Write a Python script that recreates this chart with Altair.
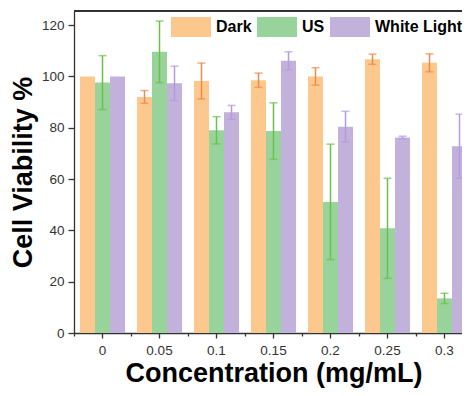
import altair as alt
import pandas as pd

concentrations = ["0", "0.05", "0.1", "0.15", "0.2", "0.25", "0.3"]
series = ["Dark", "US", "White Light"]
dark_mean = [100.0, 92.0, 98.2, 98.5, 100.0, 106.7, 105.3]
dark_err = [0.0, 2.5, 7.0, 2.8, 3.4, 2.0, 3.5]
us_mean = [97.6, 109.6, 79.0, 78.7, 51.1, 40.8, 13.5]
us_err = [10.5, 12.0, 5.3, 11.0, 22.5, 19.5, 2.0]
wl_mean = [100.0, 97.3, 86.0, 106.1, 80.4, 76.2, 72.8]
wl_err = [0.0, 6.7, 2.7, 3.5, 6.0, 0.5, 12.5]

colors = ["#FCC88E", "#97D39A", "#C2B1DA"]
err_colors = ["#EE8A4A", "#6CC04A", "#B49AE0"]

rows = []
for s, means, errs in zip(series, [dark_mean, us_mean, wl_mean], [dark_err, us_err, wl_err]):
    for c, m, e in zip(concentrations, means, errs):
        rows.append({"conc": c, "series": s, "mean": m, "err": e})
df = pd.DataFrame(rows)

FONT = "Liberation Sans"
W, H = 399, 322

xscale = alt.Scale(domain=concentrations, paddingInner=0.21, paddingOuter=0.105)
yscale = alt.Scale(domain=[0, 125.5], nice=False)
xoff = alt.XOffset("series:N", sort=series, scale=alt.Scale(domain=series, paddingInner=0, paddingOuter=0))

major_y = "datum.value % 20 === 0"

bars = alt.Chart(df).mark_bar(opacity=1).encode(
    x=alt.X("conc:N", sort=concentrations, scale=xscale,
            axis=alt.Axis(title="Concentration (mg/mL)", orient="bottom", labelAngle=0, tickSize=5,
                          labelPadding=5, labelFontSize=13.5, labelColor="#333333",
                          labelFont=FONT, titleFont=FONT, titleFontSize=27,
                          titleFontWeight="bold", titleColor="#000000", titlePadding=4,
                          domainColor="#333333", domainWidth=1.3, tickColor="#333333",
                          tickWidth=1.3)),
    xOffset=xoff,
    y=alt.Y("mean:Q", scale=yscale,
            axis=alt.Axis(title="Cell Viability %", values=list(range(0, 121, 10)),
                          labelExpr="datum.value % 20 === 0 ? datum.label : ''",
                          tickSize={"condition": {"test": major_y, "value": 6}, "value": 3},
                          labelPadding=4, labelFontSize=13.5, labelColor="#333333",
                          labelFont=FONT, titleFont=FONT, titleFontSize=27,
                          titleFontWeight="bold", titleColor="#000000", titlePadding=4,
                          domainColor="#333333", domainWidth=1.3, tickColor="#333333",
                          tickWidth=1.3, grid=False)),
    color=alt.Color("series:N", sort=series, scale=alt.Scale(domain=series, range=colors),
                    legend=alt.Legend(title=None, orient="none", legendX=97, legendY=-4,
                                      direction="horizontal", symbolType="M-1,-0.5H1V0.5H-1Z",
                                      symbolSize=1600, symbolStrokeWidth=0, symbolOpacity=1,
                                      labelFontSize=16, labelFontWeight="bold", labelFont=FONT,
                                      labelColor="#000000", labelOffset=5, columnPadding=5,
                                      padding=0)),
)

base_err = alt.Chart(df).transform_calculate(
    lo="datum.mean - datum.err", hi="datum.mean + datum.err"
).transform_filter("datum.err > 0")

err_color = alt.Color("series:N", sort=series, scale=alt.Scale(domain=series, range=err_colors), legend=None)

rules = base_err.mark_rule(strokeWidth=1.5).encode(
    x=alt.X("conc:N", sort=concentrations, scale=xscale, axis=None),
    xOffset=xoff,
    y=alt.Y("lo:Q", scale=yscale),
    y2="hi:Q",
    color=err_color,
)

caps_hi = base_err.mark_tick(thickness=1.5, size=8, orient="horizontal").encode(
    x=alt.X("conc:N", sort=concentrations, scale=xscale, axis=None),
    xOffset=xoff,
    y=alt.Y("hi:Q", scale=yscale),
    color=err_color,
)
caps_lo = base_err.mark_tick(thickness=1.5, size=8, orient="horizontal").encode(
    x=alt.X("conc:N", sort=concentrations, scale=xscale,
            axis=alt.Axis(title=None, orient="bottom", labels=False, domain=False, tickSize=3,
                          tickOffset=-W / 7 / 2, tickColor="#333333", tickWidth=1.3)),
    xOffset=xoff,
    y=alt.Y("lo:Q", scale=yscale),
    color=err_color,
)

top_border = alt.Chart(df).mark_rule(color="#333333", strokeWidth=1.3).encode(
    x=alt.value(0), x2=alt.value(W), y=alt.value(0)
)

chart = alt.layer(bars, rules, caps_hi, caps_lo, top_border).resolve_scale(
    color="independent"
).resolve_axis(x="independent").properties(
    width=W, height=H,
    autosize=alt.AutoSizeParams(type="none"),
    padding={"left": 66, "top": 3, "right": -11, "bottom": 55},
).configure_view(stroke=None)

chart.save("out.html", embed_options={"renderer": "svg", "actions": False})
